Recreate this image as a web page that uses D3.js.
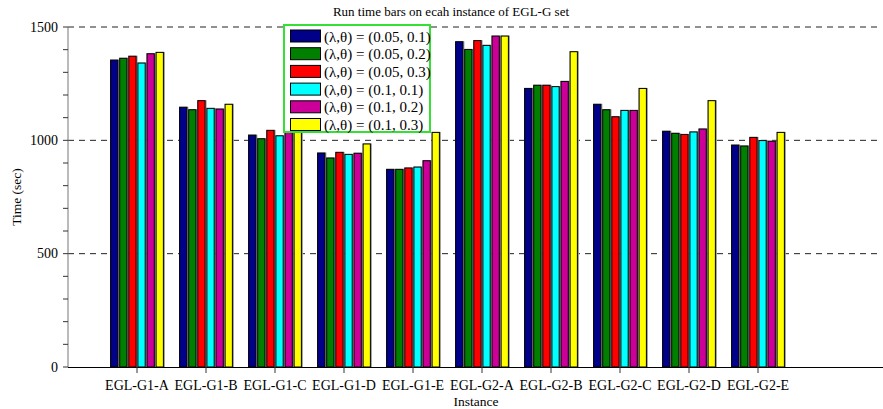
<!DOCTYPE html>
<html>
<head>
<meta charset="utf-8">
<script src="https://cdn.jsdelivr.net/npm/d3@7"></script>
<style>
  body { margin: 0; background: #fff; }
</style>
</head>
<body>
<script>
var instances = ["EGL-G1-A","EGL-G1-B","EGL-G1-C","EGL-G1-D","EGL-G1-E","EGL-G2-A","EGL-G2-B","EGL-G2-C","EGL-G2-D","EGL-G2-E"];
var seriesNames = ["(\u03bb,\u03b8) = (0.05, 0.1)","(\u03bb,\u03b8) = (0.05, 0.2)","(\u03bb,\u03b8) = (0.05, 0.3)","(\u03bb,\u03b8) = (0.1, 0.1)","(\u03bb,\u03b8) = (0.1, 0.2)","(\u03bb,\u03b8) = (0.1, 0.3)"];
var colors = ["#000088","#007f00","#ff0000","#00ffff","#cc0099","#ffff00"];

// run time (sec), one array per parameter setting
var s1 = [1354, 1146, 1023, 944, 872, 1435, 1229, 1159, 1040, 979];
var s2 = [1362, 1135, 1007, 922, 872, 1401, 1243, 1135, 1031, 975];
var s3 = [1371, 1175, 1044, 947, 878, 1440, 1243, 1104, 1026, 1013];
var s4 = [1341, 1141, 1020, 938, 882, 1419, 1237, 1132, 1037, 999];
var s5 = [1382, 1138, 1040, 943, 910, 1460, 1260, 1132, 1050, 996];
var s6 = [1388, 1159, 1100, 984, 1035, 1460, 1391, 1229, 1175, 1035];
var series = [s1, s2, s3, s4, s5, s6];

var yTicks = [0, 500, 1000, 1500];

var width = 883, height = 409;
var svg = d3.select("body").append("svg")
  .attr("width", width)
  .attr("height", height)
  .attr("font-family", "'Liberation Serif', 'Times New Roman', Times, 'DejaVu Serif', serif");

var y = d3.scaleLinear().domain([0, 1500]).range([367, 27]);
var x = d3.scaleLinear().domain([0, 815 / 69]).range([68, 883]);
var xIn = d3.scaleBand().domain(d3.range(6)).range([-27.3, 27.3]).paddingInner(0.2).paddingOuter(0.1);

// grid lines
svg.append("g").selectAll("line")
  .data(yTicks.filter(function(d){ return d > 0; }))
  .enter().append("line")
  .attr("x1", 68).attr("x2", 880)
  .attr("y1", function(d){ return y(d); })
  .attr("y2", function(d){ return y(d); })
  .attr("stroke", "#222")
  .attr("stroke-dasharray", "6,5");

// bars
var groups = svg.append("g").selectAll("g")
  .data(instances)
  .enter().append("g")
  .attr("transform", function(d, i){ return "translate(" + x(i + 1) + ",0)"; });

series.forEach(function(vals, k) {
  groups.append("rect")
    .attr("x", xIn(k) - 0.5)
    .attr("y", function(d, i){ return y(vals[i]) - 0.5; })
    .attr("width", xIn.bandwidth() + 2)
    .attr("height", function(d, i){ return y(0) - y(vals[i]) + 0.5; })
    .attr("fill", "#9a9a9a");
  groups.append("rect")
    .attr("x", xIn(k))
    .attr("y", function(d, i){ return y(vals[i]); })
    .attr("width", xIn.bandwidth())
    .attr("height", function(d, i){ return y(0) - y(vals[i]); })
    .attr("fill", colors[k])
    .attr("stroke", "#000")
    .attr("stroke-width", 1);
});

// y axis
var yAxis = svg.append("g");
yAxis.append("line")
  .attr("x1", 68).attr("x2", 68).attr("y1", 27).attr("y2", 367)
  .attr("stroke", "#777");
yAxis.selectAll(".minor")
  .data(d3.range(0, 1501, 100))
  .enter().append("line")
  .attr("x1", 63).attr("x2", 68)
  .attr("y1", function(d){ return y(d); })
  .attr("y2", function(d){ return y(d); })
  .attr("stroke", "#333");
yAxis.selectAll(".lab")
  .data(yTicks)
  .enter().append("text")
  .attr("x", 58)
  .attr("y", function(d){ return y(d) + 4.5; })
  .attr("text-anchor", "end")
  .attr("font-size", 14)
  .text(function(d){ return d; });

svg.append("text")
  .attr("transform", "translate(21,197) rotate(-90)")
  .attr("text-anchor", "middle")
  .attr("font-size", 13.5)
  .text("Time (sec)");

// x axis
var xAxis = svg.append("g");
xAxis.append("line")
  .attr("x1", 68).attr("x2", 883).attr("y1", 367.5).attr("y2", 367.5)
  .attr("stroke", "#000");
xAxis.selectAll(".tick")
  .data(instances)
  .enter().append("line")
  .attr("x1", function(d, i){ return x(i + 1); })
  .attr("x2", function(d, i){ return x(i + 1); })
  .attr("y1", 367).attr("y2", 373)
  .attr("stroke", "#333");
xAxis.selectAll(".lab")
  .data(instances)
  .enter().append("text")
  .attr("x", function(d, i){ return x(i + 1); })
  .attr("y", 390)
  .attr("text-anchor", "middle")
  .attr("font-size", 14)
  .text(function(d){ return d; });

svg.append("text")
  .attr("x", 476).attr("y", 406)
  .attr("text-anchor", "middle")
  .attr("font-size", 13.5)
  .text("Instance");

svg.append("text")
  .attr("x", 451).attr("y", 16)
  .attr("text-anchor", "middle")
  .attr("font-size", 13)
  .text("Run time bars on ecah instance of EGL-G set");

// legend
var legend = svg.append("g").attr("transform", "translate(284,25)");
legend.append("rect")
  .attr("width", 146).attr("height", 107)
  .attr("fill", "#fff")
  .attr("stroke", "#33e033")
  .attr("stroke-width", 2);
var item = legend.selectAll(".item")
  .data(seriesNames)
  .enter().append("g")
  .attr("transform", function(d, i){ return "translate(0," + (4.5 + i * 17.7) + ")"; });
item.append("rect")
  .attr("x", 6.5).attr("y", 0.5)
  .attr("width", 30).attr("height", 12)
  .attr("fill", function(d, i){ return colors[i]; })
  .attr("stroke", "#000");
item.append("text")
  .attr("x", 40).attr("y", 12)
  .attr("font-size", 15)
  .text(function(d){ return d; });
</script>
</body>
</html>
